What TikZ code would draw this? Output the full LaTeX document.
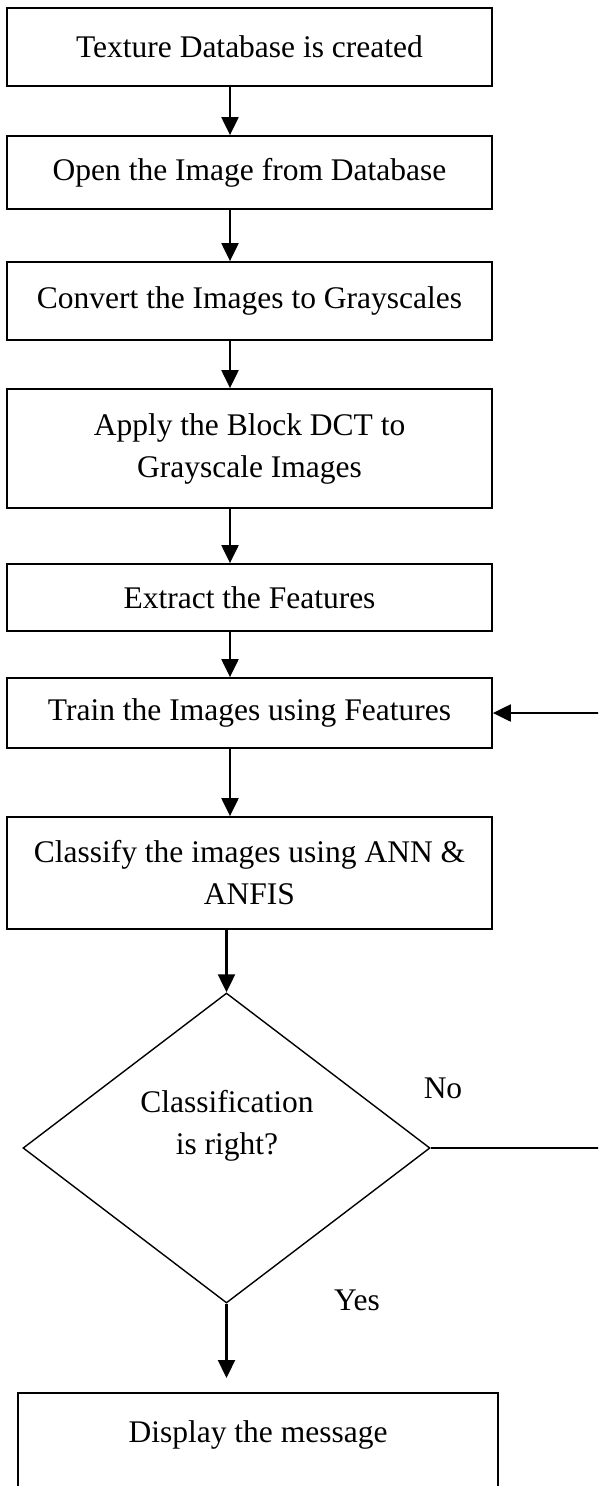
\documentclass[tikz,border=0pt]{standalone}
\usepackage{fontspec}
\setmainfont{Liberation Serif}
\usetikzlibrary{arrows.meta, shapes.geometric}

\tikzset{
    every node/.style={font=\fontsize{31.5}{42}\selectfont},
    stage/.style={draw, line width=1.8pt, minimum width=485pt, minimum height=#1, align=center, inner sep=0pt},
    decision/.style={draw, diamond, line width=1.4pt, minimum width=407pt, minimum height=310pt, inner sep=0pt},
    flow/.style={line width=2.2pt, -{Triangle[length=18pt, width=17pt]}},
}

\begin{document}
\begin{tikzpicture}[x=1pt, y=-1pt]
        \useasboundingbox (0,0) rectangle (598,1486);
        \clip (0,0) rectangle (598,1486);

        % main column of steps
        \node[stage=78pt] (b1) at (249.5,47) {Texture Database is created};
        \node[stage=73pt] (b2) at (249.5,172.5) {Open the Image from Database};
        \node[stage=78pt] (b3) at (249.5,301) {Convert the Images to Grayscales};
        \node[stage=119pt] (b4) at (249.5,448.5) {Apply the Block DCT to\\Grayscale Images};
        \node[stage=67pt] (b5) at (249.5,597.5) {Extract the Features};
        \node[stage=70pt] (b6) at (249.5,713) {Train the Images using Features};
        \node[stage=112pt] (b7) at (249.5,873) {Classify the images using ANN \&\\ANFIS};

        % decision
        \node[decision] (dia) at (226.5,1148) {};
        \node (q) at (227,1126) [align=center] {Classification\\is right?};
        \node (no) at (443,1088) {No};
        \node (yes) at (357,1300) {Yes};

        % last box runs off the bottom edge
        \node[draw, line width=1.8pt, minimum width=480pt, anchor=north, inner sep=0pt,
              text height=50pt, text depth=64pt] (b8) at (258,1392) {Display the message};

        \coordinate (spine) at (230,0);
        \foreach \a/\b in {b1/b2, b2/b3, b3/b4, b4/b5, b5/b6, b6/b7} {
            \draw[flow] (\a.south -| spine) -- (\b.north -| spine);
        }
        \draw[flow] (b7.south -| dia.north) -- (dia.north);
        \draw[flow, shorten >=14pt] (dia.south) -- (b8.north -| dia.south);

        % loop back when the answer is no
        \draw[flow] (dia.east) -- ++(190,0) |- (b6.east);
    \end{tikzpicture}
\end{document}
